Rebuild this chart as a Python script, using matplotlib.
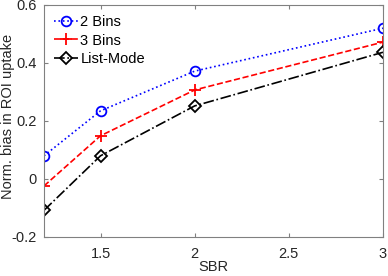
import matplotlib
matplotlib.use("Agg")
import matplotlib.pyplot as plt

plt.rcParams['font.family'] = ['Liberation Sans', 'DejaVu Sans']

sbr = [1.2, 1.5, 2, 3]
bins2 = [0.080, 0.235, 0.372, 0.520]
bins3 = [-0.024, 0.149, 0.307, 0.472]
listmode = [-0.108, 0.080, 0.252, 0.437]

fig = plt.figure(figsize=(3.88, 2.76), dpi=100)
ax = fig.add_axes([44/388, 1 - 237/276, 339/388, 232/276])

ax.plot(sbr, bins2, 'o:', color='blue', mfc='none', mew=1.3, ms=7, lw=1.2, label='2 Bins')
ax.plot(sbr, bins3, '+--', color='red', mew=1.3, ms=9, lw=1.2, label='3 Bins')
ax.plot(sbr, listmode, 'D-.', color='black', mfc='none', mew=1.3, ms=6, lw=1.2, label='List-Mode')

ax.set_xlim(1.2, 3)
ax.set_ylim(-0.2, 0.6)
ax.set_xticks([1.5, 2, 2.5, 3])
ax.set_xticklabels(['1.5', '2', '2.5', '3'])
ax.set_yticks([-0.2, 0, 0.2, 0.4, 0.6])
ax.set_yticklabels(['-0.2', '0', '0.2', '0.4', '0.6'])
ax.tick_params(direction='in', top=True, right=True, length=3, labelsize=10.5,
               color='#808080', labelcolor='#262626')
ax.tick_params(axis='x', pad=7)
ax.tick_params(axis='y', pad=5)
for s in ax.spines.values():
    s.set_color('#808080')
    s.set_linewidth(0.8)

ax.set_xlabel('SBR', fontsize=10.5, color='#262626')
ax.set_ylabel('Norm. bias in ROI uptake', fontsize=10.5, color='#262626')
ax.yaxis.label.set_va('center')
ax.yaxis.set_label_coords(-0.106, 0.52)
ax.xaxis.set_label_coords(0.5, -0.1)
ax.xaxis.label.set_va('top')

ax.legend(loc='upper left', frameon=False, fontsize=10.5, handlelength=1.6,
          handletextpad=0.2, labelspacing=0.3, borderaxespad=0.3)

fig.savefig('out.png', dpi=100)
